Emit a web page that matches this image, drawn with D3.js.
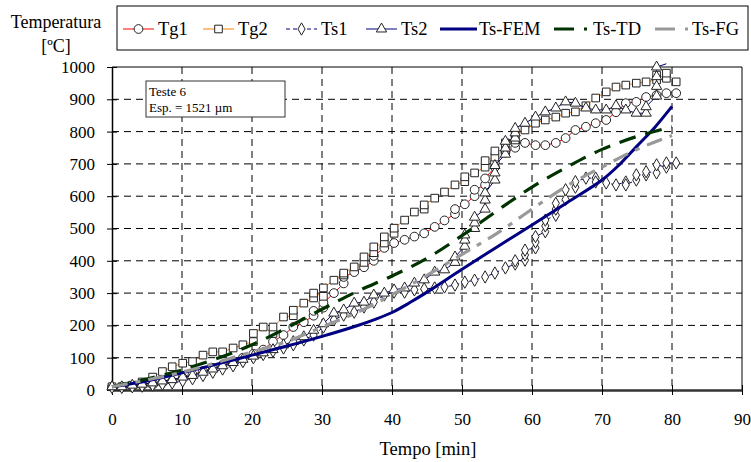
<!DOCTYPE html>
<html><head><meta charset="utf-8">
<script src="https://cdn.jsdelivr.net/npm/d3@7"></script>
<style>
body{margin:0;background:#fff}
svg{display:block}
svg text{font-family:"Liberation Serif","Times New Roman","DejaVu Serif",serif !important;fill:#000}
</style>
</head><body>
<svg id="chart" width="751" height="462" font-family="Liberation Serif"></svg>
<script>
// ---------- DATA ----------
const xTicks = [0,10,20,30,40,50,60,70,80,90];
const yTicks = [0,100,200,300,400,500,600,700,800,900,1000];
const seriesNames = ["Tg1","Tg2","Ts1","Ts2","Ts-FEM","Ts-TD","Ts-FG"];

const tg1 = [[0,10],[1.4,10],[2.9,12],[4.3,14],[5.8,16],[7.2,22],[8.6,28],[10.1,38],[11.5,48],[13,58],[14.4,68],[15.8,78],[17.3,88],[18.7,100],[20.2,112],[21.6,125],[23,150],[24.5,170],[25.9,195],[27.4,210],[28.8,230],[28.8,245],[30.2,255],[30.2,270],[31.7,300],[33.1,330],[33.1,350],[34.6,365],[36,380],[37.4,400],[37.4,415],[38.9,440],[40.3,455],[41.8,465],[43.2,475],[44.6,485],[46.1,505],[47.5,525],[49,545],[49,560],[50.4,575],[51.8,600],[51.8,620],[53.3,635],[53.3,655],[54.7,690],[54.7,705],[56.2,735],[57.6,750],[57.6,765],[59,765],[60.5,758],[61.9,758],[63.4,765],[64.8,780],[66.2,805],[67.7,815],[69.1,826],[70.6,836],[72,860],[73.4,888],[74.9,892],[76.3,907],[77.8,913],[79.2,919],[80.6,919]];

const tg2 = [[0,10],[1.4,10],[2.9,15],[4.3,25],[5.8,40],[7.2,57],[8.6,72],[10.1,83],[11.5,88],[13,108],[14.4,118],[15.8,118],[17.3,130],[18.7,140],[20.2,150],[20.2,175],[21.6,195],[23,175],[23,195],[24.5,226],[25.9,230],[25.9,247],[27.4,269],[28.8,285],[28.8,300],[30.2,290],[30.2,316],[31.7,340],[33.1,356],[33.1,362],[34.6,381],[36,395],[36,412],[37.4,425],[37.4,443],[38.9,455],[38.9,474],[40.3,485],[40.3,501],[41.8,526],[43.2,551],[44.6,560],[44.6,573],[46.1,594],[47.5,613],[49,635],[50.4,645],[50.4,660],[51.8,672],[53.3,690],[53.3,710],[54.7,721],[54.7,740],[56.2,743],[56.2,765],[57.6,774],[57.6,790],[59,805],[60.5,826],[61.9,836],[63.4,845],[64.8,857],[66.2,861],[67.7,880],[69.1,904],[70.6,923],[72,938],[73.4,944],[74.9,950],[76.3,954],[77.8,960],[77.8,975],[79.2,965],[79.2,981],[80.6,954]];

const ts1 = [[0,8],[1.4,8],[2.9,10],[4.3,12],[5.8,15],[7.2,18],[8.6,22],[10.1,28],[11.5,35],[13,45],[14.4,55],[15.8,65],[17.3,75],[18.7,88],[20.2,100],[21.6,110],[23,120],[24.5,130],[25.9,140],[27.4,155],[28.8,170],[30.2,195],[31.7,217],[33.1,232],[34.6,241],[36,257],[37.4,272],[38.9,294],[40.3,303],[41.8,303],[43.2,310],[44.6,313],[46.1,316],[47.5,319],[49,325],[50.4,334],[51.8,340],[53.3,350],[54.7,362],[56.2,378],[57.6,390],[57.6,400],[59,402],[59,418],[59,433],[60.5,440],[60.5,458],[60.5,475],[61.9,490],[61.9,508],[61.9,526],[63.4,541],[63.4,560],[63.4,578],[64.8,590],[64.8,620],[66.2,628],[66.2,645],[67.7,656],[69.1,656],[69.1,644],[70.6,641],[72,635],[73.4,644],[73.4,635],[74.9,650],[74.9,666],[76.3,666],[76.3,676],[77.8,672],[77.8,697],[79.2,690],[79.2,703],[80.6,703]];

const ts2 = [[0,10],[1.4,10],[2.9,15],[4.3,18],[5.8,22],[7.2,28],[8.6,32],[10.1,40],[11.5,45],[13,55],[14.4,65],[15.8,75],[17.3,85],[18.7,95],[20.2,105],[21.6,115],[23,125],[24.5,140],[25.9,150],[27.4,165],[28.8,185],[30.2,205],[31.7,238],[33.1,248],[34.6,269],[36,272],[37.4,294],[38.9,300],[40.3,310],[41.8,316],[43.2,331],[44.6,341],[46.1,365],[47.5,372],[49,395],[49,412],[50.4,445],[50.4,464],[50.4,480],[51.8,500],[51.8,517],[51.8,535],[53.3,560],[53.3,588],[53.3,610],[54.7,650],[54.7,672],[54.7,695],[56.2,730],[56.2,749],[56.2,770],[57.6,780],[57.6,796],[57.6,810],[59,826],[60.5,845],[61.9,861],[63.4,873],[64.8,892],[66.2,888],[67.7,873],[69.1,867],[70.6,867],[72,880],[73.4,867],[74.9,857],[76.3,857],[76.3,877],[77.8,910],[77.8,940],[77.8,970],[77.8,1000],[79.2,1010]];

const tsFEM = [[0,10],[5,28],[10,53],[15,80],[20,108],[25,136],[30,166],[35,199],[37.5,218],[40,240],[42.5,270],[45,303],[50,374],[55,443],[60,511],[65,580],[70,650],[72.5,698],[75,755],[77.5,812],[80,878]];
const tsTD  = [[0,10],[10,62],[20,140],[30,250],[35,305],[40,353],[45,408],[50,478],[55,555],[60,628],[65,690],[70,745],[75,785],[80,815]];
const tsFG  = [[0,10],[10,55],[20,118],[25,150],[30,195],[35,240],[40,295],[45,355],[50,420],[55,485],[60,560],[65,632],[70,690],[75,745],[80,788]];

// ---------- LAYOUT ----------
const FONT = '"Liberation Serif","Times New Roman","DejaVu Serif",serif';
const L=112, R=742, T=67, B=390;
const svg = d3.select("#chart");
const x = d3.scaleLinear().domain([0,90]).range([L,R]);
const y = d3.scaleLinear().domain([0,1000]).range([B,T]);

// grid
const grid = svg.append("g");
grid.selectAll(".vg").data(xTicks.filter(d=>d>0&&d<90)).enter().append("line")
  .attr("x1",d=>x(d)).attr("x2",d=>x(d)).attr("y1",T).attr("y2",B)
  .attr("stroke","#000").attr("stroke-width",1).attr("stroke-dasharray","7,5");
grid.selectAll(".hg").data(yTicks.filter(d=>d>0&&d<1000)).enter().append("line")
  .attr("x1",L).attr("x2",R).attr("y1",d=>y(d)).attr("y2",d=>y(d))
  .attr("stroke","#000").attr("stroke-width",1).attr("stroke-dasharray","7,5");

// border top/right
svg.append("line").attr("x1",L).attr("x2",R).attr("y1",T).attr("y2",T).attr("stroke","#000").attr("stroke-width",1);
svg.append("line").attr("x1",R).attr("x2",R).attr("y1",T).attr("y2",B).attr("stroke","#000").attr("stroke-width",1);

// axes
const yAxis = svg.append("g").attr("transform",`translate(${L},0)`)
  .call(d3.axisLeft(y).tickValues(yTicks).tickFormat(d3.format("d")).tickSizeOuter(0).tickPadding(11));
yAxis.attr("font-family",null).attr("font-size",null);
yAxis.select(".domain").attr("stroke","#000").attr("stroke-width",1.5);
yAxis.selectAll(".tick line").attr("x1",-5).attr("x2",5).attr("stroke","#000");
yAxis.selectAll("text").attr("font-size",17).style("font-family",FONT);

const xAxis = svg.append("g").attr("transform",`translate(0,${B})`)
  .call(d3.axisBottom(x).tickValues(xTicks).tickFormat(d3.format("d")).tickSizeOuter(0).tickPadding(17));
xAxis.attr("font-family",null).attr("font-size",null);
xAxis.select(".domain").attr("stroke","#333").attr("stroke-width",2.5);
xAxis.selectAll(".tick line").attr("y1",-5).attr("y2",5).attr("stroke","#000");
xAxis.selectAll("text").attr("font-size",17).style("font-family",FONT);

// axis titles
svg.append("text").attr("x",428).attr("y",455).attr("text-anchor","middle").attr("font-size",18.5).style("font-family",FONT).text("Tempo [min]");
svg.append("text").attr("x",56).attr("y",28).attr("text-anchor","middle").attr("font-size",18).style("font-family",FONT).text("Temperatura");
svg.append("text").attr("x",56).attr("y",52).attr("text-anchor","middle").attr("font-size",18).style("font-family",FONT).text("[ºC]");

// series
const line = d3.line().x(d=>x(d[0])).y(d=>y(d[1]));
const smooth = d3.line().x(d=>x(d[0])).y(d=>y(d[1])).curve(d3.curveCatmullRom.alpha(0.5));
const sym = {
  circle: d3.symbol().type(d3.symbolCircle).size(60)(),
  square: d3.symbol().type(d3.symbolSquare).size(58)(),
  diamond: d3.symbol().type(d3.symbolDiamond).size(44)(),
  triangle: d3.symbol().type(d3.symbolTriangle).size(46)()
};
const measured = [
  {data:tg1, color:"#ff0000", dash:null, shape:"circle"},
  {data:tg2, color:"#ff8000", dash:null, shape:"square"},
  {data:ts1, color:"#000080", dash:"4,3", shape:"diamond"},
  {data:ts2, color:"#000080", dash:null, shape:"triangle"}
];
const plot = svg.append("g");
measured.forEach(s=>{
  plot.append("path").attr("d",line(s.data)).attr("fill","none")
    .attr("stroke",s.color).attr("stroke-width",1).attr("stroke-dasharray",s.dash);
  plot.selectAll(null).data(s.data.filter(d=>d[1]<=1000)).enter().append("path")
    .attr("d",sym[s.shape]).attr("transform",d=>`translate(${x(d[0])},${y(d[1])})`)
    .attr("fill","#fff").attr("stroke","#222").attr("stroke-width",1);
});
plot.append("path").attr("d",smooth(tsFEM)).attr("fill","none").attr("stroke","#000080").attr("stroke-width",3);
plot.append("path").attr("d",smooth(tsTD)).attr("fill","none").attr("stroke","#003300").attr("stroke-width",3.2).attr("stroke-dasharray","17,10");
plot.append("path").attr("d",smooth(tsFG)).attr("fill","none").attr("stroke","#999").attr("stroke-width",3.2).attr("stroke-dasharray","16,8,5,8");

// annotation box
svg.append("rect").attr("x",146).attr("y",81).attr("width",139).attr("height",36).attr("fill","#fff").attr("stroke","#333").attr("stroke-width",1);
svg.append("text").attr("x",149).attr("y",96).attr("font-size",13).style("font-family",FONT).text("Teste 6");
svg.append("text").attr("x",149).attr("y",112).attr("font-size",13).style("font-family",FONT).text("Esp. = 1521 µm");

// legend
const lg = svg.append("g");
lg.append("rect").attr("x",117).attr("y",6).attr("width",631).attr("height",44).attr("fill","#fff").attr("stroke","#000").attr("stroke-width",1);
const legendItems = [
  {name:seriesNames[0], x1:123, x2:154, tx:158, color:"#ff0000", w:1, dash:null, shape:"circle"},
  {name:seriesNames[1], x1:203, x2:234, tx:238, color:"#ff8000", w:1, dash:null, shape:"square"},
  {name:seriesNames[2], x1:286, x2:317, tx:321, color:"#000080", w:1, dash:"4,3", shape:"diamond"},
  {name:seriesNames[3], x1:366, x2:397, tx:401, color:"#000080", w:1, dash:null, shape:"triangle"},
  {name:seriesNames[4], x1:440, x2:477, tx:479, color:"#000080", w:3, dash:null, shape:null},
  {name:seriesNames[5], x1:554, x2:590, tx:593, color:"#003300", w:3.2, dash:"20,10,3,10", shape:null},
  {name:seriesNames[6], x1:655, x2:689, tx:692, color:"#999", w:3.2, dash:"20,10,3,10", shape:null}
];
const ly = 29;
legendItems.forEach(it=>{
  lg.append("line").attr("x1",it.x1).attr("x2",it.x2).attr("y1",ly).attr("y2",ly)
    .attr("stroke",it.color).attr("stroke-width",it.w).attr("stroke-dasharray",it.dash);
  if(it.shape) lg.append("path").attr("d",sym[it.shape]).attr("transform",`translate(${(it.x1+it.x2)/2},${ly})`)
    .attr("fill","#fff").attr("stroke","#222").attr("stroke-width",1);
  lg.append("text").attr("x",it.tx).attr("y",ly+6).attr("font-size",18.5).style("font-family",FONT).text(it.name);
});
</script>
</body></html>
